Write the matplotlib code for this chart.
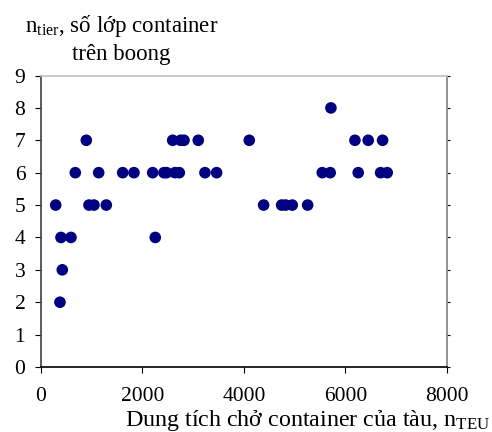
import numpy as np
import matplotlib
matplotlib.use("Agg")
import matplotlib.pyplot as plt

plt.rcParams['font.family'] = ['Liberation Serif', 'DejaVu Serif']
plt.rcParams['mathtext.fontset'] = 'custom'
plt.rcParams['mathtext.rm'] = 'Liberation Serif'
plt.rcParams['mathtext.it'] = 'Liberation Serif:italic'

# ship capacity (TEU) and number of tiers on deck
teu = [290, 374, 394, 420, 591, 676, 893, 946, 1044, 1137, 1287,
       1610, 1832, 2201, 2252, 2423, 2476, 2595, 2640, 2725, 2752, 2818,
       3099, 3231, 3461, 4104, 4387, 4742, 4821, 4951, 5254,
       5542, 5699, 5713, 6186, 6251, 6448, 6692, 6731, 6822]
tiers = [5, 2, 4, 3, 4, 6, 7, 5, 5, 6, 5,
         6, 6, 6, 4, 6, 6, 7, 6, 6, 7, 7,
         7, 6, 6, 7, 5, 5, 5, 5, 5,
         6, 6, 8, 7, 6, 7, 6, 7, 6]

xticks = [0, 2000, 4000, 6000, 8000]
yticks = list(range(0, 10))

fig = plt.figure(figsize=(4.92, 4.32), dpi=100)
ax = fig.add_axes([0.0833, 0.1505, 0.8252, 0.6747])

ax.scatter(teu, tiers, s=70, color='#000080', edgecolors='none', zorder=3)

ax.set_xlim(0, 8000)
ax.set_ylim(0, 9)
ax.set_xticks(xticks)
ax.set_yticks(yticks)
ax.tick_params(axis='both', labelsize=15.5, direction='out', length=4.3, width=0.8)
ax.tick_params(axis='x', pad=10)
ax.tick_params(axis='y', pad=7, right=True)
for t in ax.yaxis.get_major_ticks():
    t.tick2line.set_markersize(2)

ax.spines['top'].set_color('#c0c0c0')
ax.spines['right'].set_color('#808080')
ax.spines['left'].set_color('#404040')
ax.spines['bottom'].set_color('black')
for s in ax.spines.values():
    s.set_linewidth(1.2)

fig.text(0.254, 0.014, r'Dung tích chở container của tàu, n$_{\mathrm{TEU}}$',
         fontsize=17.3, ha='left', va='baseline')

fig.text(0.05, 0.926, r'n$_{\mathrm{tier}}$, số lớp container', fontsize=16.5,
         ha='left', va='baseline')
fig.text(0.246, 0.861, 'trên boong', fontsize=16.5, ha='center', va='baseline')

fig.savefig('out.png', dpi=100)
